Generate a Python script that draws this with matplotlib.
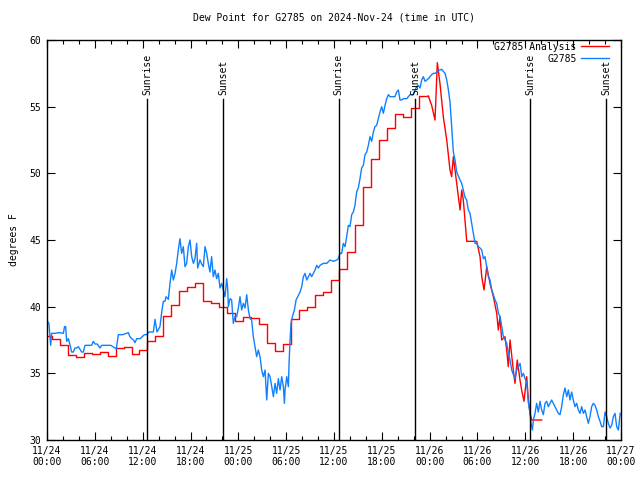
import numpy as np
import matplotlib
matplotlib.use("Agg")
import matplotlib.pyplot as plt
from matplotlib.lines import Line2D

# ---------------- data ----------------
# hours since 2024-11-24 00:00 UTC
blue_t = [0.0, 0.25, 0.46, 0.59, 1.0, 1.5, 2.05, 2.2, 2.34, 2.47, 2.68, 2.9, 3.09, 3.3, 3.51, 3.72, 3.93,
          4.14, 4.35, 4.56, 4.77, 5.2, 5.6, 5.8, 6.02, 6.3, 6.65, 6.85, 7.07, 7.5, 8.0, 8.53, 8.7, 8.95,
          9.5, 10.2, 10.4, 10.62, 10.85, 11.04, 11.25, 11.7, 12.21, 12.5, 12.8, 13.1, 13.34, 13.55, 13.8,
          14.17, 14.38, 14.59, 14.8, 14.93, 15.22, 15.43, 15.64, 15.85, 16.06, 16.27, 16.47, 16.68, 16.89,
          17.1, 17.31, 17.52, 17.73, 17.94, 18.15, 18.36, 18.56,
          18.77, 18.9, 19.19, 19.4, 19.61, 19.82, 20.03, 20.23, 20.44, 20.65, 20.86, 21.07, 21.28, 21.49,
          21.7, 21.91, 22.12, 22.33, 22.54, 22.66, 22.75, 22.96, 23.16, 23.37, 23.58, 23.79, 24.0, 24.21,
          24.42, 24.63, 24.84, 25.05, 25.26, 25.47, 25.67, 25.88, 26.09, 26.3, 26.51, 26.72, 26.93, 27.14,
          27.35, 27.56, 27.77, 27.98, 28.19, 28.4, 28.6, 28.81, 29.02, 29.23, 29.44, 29.65, 29.78, 29.86,
          30.07, 30.28, 30.36, 30.49, 30.61, 30.78, 31.03, 31.24, 31.45, 31.74, 31.95, 32.16, 32.37, 32.58,
          32.79, 33.0, 33.2, 33.41, 33.62, 33.83, 34.04, 34.25, 34.67, 35.09, 35.5, 35.92, 36.34,
          36.55, 36.75, 36.96, 37.17, 37.38, 37.59, 37.8, 38.01, 38.22, 38.43, 38.63, 38.84, 39.05, 39.26,
          39.47, 39.68, 39.89, 40.1, 40.31, 40.52, 40.73, 40.94, 41.14, 41.35, 41.56, 41.77, 41.98, 42.19,
          42.4, 42.61, 42.82, 43.03, 43.24, 43.45, 43.65, 43.86, 44.07, 44.28, 44.49, 44.7, 44.91, 45.12,
          45.33, 45.54, 45.74, 45.95, 46.16, 46.37, 46.58, 46.79, 47.0, 47.21, 47.42, 47.63, 47.84, 48.05,
          48.25, 48.46, 48.67, 48.88, 49.09, 49.3, 49.5, 49.93, 50.14, 50.35, 50.56, 50.76, 50.97, 51.18,
          51.39, 51.81, 52.02, 52.22, 52.43, 52.64, 52.85, 53.06, 53.27, 53.48, 53.69, 53.9, 54.11, 54.32,
          54.53, 54.74, 54.94, 55.15, 55.36, 55.57, 55.78, 55.99, 56.2, 56.41, 56.62, 56.83, 57.04, 57.25,
          57.46, 57.66, 57.87, 58.08, 58.29, 58.5, 58.71, 58.92, 59.13, 59.34, 59.55, 59.76, 59.97, 60.18,
          60.39, 60.6, 60.72, 60.89, 61.01,
          61.21, 61.42, 61.63, 61.84, 62.05, 62.26, 62.47, 62.68, 62.88, 63.09, 63.3, 63.51, 63.72, 63.93,
          64.14, 64.35, 64.56, 64.77, 64.98, 65.19, 65.4, 65.6, 65.81, 66.02, 66.23, 66.44, 66.65, 66.86,
          67.07, 67.28, 67.49, 67.69, 67.9, 68.11, 68.32, 68.53, 68.74, 68.95, 69.16, 69.37, 69.58, 69.79,
          70.0, 70.2, 70.41, 70.62, 70.83, 71.04, 71.25, 71.46, 71.67, 71.9]
blue_v = [39.0, 38.7, 37.1, 38.0, 38.0, 38.05, 38.0, 38.5, 38.5, 37.4, 37.6, 37.1, 36.6, 36.6, 36.9, 36.9, 37.0,
          36.8, 36.6, 36.6, 37.1, 37.1, 37.1, 37.4, 37.2, 37.2, 36.9, 37.1, 37.1, 37.1, 37.1, 36.9, 36.85, 37.9,
          37.9, 38.05, 37.75, 37.6, 37.5, 37.3, 37.6, 37.6, 37.9, 37.9, 38.1, 38.1, 38.1, 39.05, 38.1,
          38.5, 39.55, 40.4, 40.4, 40.75, 40.55, 41.75, 42.75, 42.0, 42.5, 43.25, 44.25, 45.1, 44.0,
          44.5, 43.0, 43.25, 44.5, 45.0, 43.75, 43.25, 43.6,
          44.75, 42.9, 43.5, 43.2, 43.0, 44.5, 44.0, 43.25, 42.6, 43.75, 42.25, 42.75, 42.1, 42.5,
          41.4, 41.75, 41.25, 40.75, 42.1, 41.4, 40.0, 40.6, 40.5, 38.75, 39.25, 39.25, 39.9, 40.75,
          39.75, 40.25, 39.9, 40.9, 39.75, 39.1, 39.0, 37.75, 37.0, 36.25, 36.75, 36.25, 35.25, 34.75,
          35.25, 33.0, 35.0, 34.75, 34.0, 33.25, 34.25, 33.5, 34.6, 33.75, 34.75, 34.0, 32.75, 33.75,
          34.75, 34.0, 35.75, 37.5, 38.75, 39.25, 39.75, 40.5, 40.75, 41.1, 41.5, 42.25, 42.5, 42.0,
          42.25, 42.5, 42.25, 42.5, 42.75, 43.1, 42.9, 43.1, 43.25, 43.25, 43.5, 43.4, 43.5,
          43.6, 44.0, 44.0, 44.75, 44.5, 45.25, 46.1, 46.0, 46.9, 47.1, 47.6, 48.6, 48.9, 49.6,
          50.4, 50.6, 51.4, 51.6, 52.1, 52.75, 52.4, 53.1, 53.5, 53.6, 54.1, 54.6, 55.0, 54.5,
          55.1, 55.6, 55.9, 55.75, 55.75, 55.75, 55.75, 56.1, 56.25, 55.5, 55.5, 55.6, 55.6, 55.6,
          55.75, 55.9, 55.9, 55.9, 56.25, 56.5, 56.6, 56.4, 57.0, 57.25, 56.9, 57.0, 57.1, 57.25,
          57.4, 57.5, 57.5, 57.6, 57.75, 57.75, 57.8, 57.5, 57.0, 56.25, 55.3, 53.5, 51.6, 51.0,
          50.1, 49.5, 49.25, 48.75, 48.2, 48.0, 47.25, 47.0, 46.25, 45.5, 44.75, 44.75, 44.5, 44.4,
          44.25, 43.6, 43.75, 43.0, 42.25, 42.0, 41.25, 40.9, 40.5, 40.25, 39.5, 39.25, 38.5, 37.75,
          37.5, 37.25, 36.5, 36.0, 35.25, 34.9, 34.6, 35.25, 35.5, 35.75, 34.75, 35.0, 34.6, 34.25,
          32.75, 32.0, 31.25, 30.75, 31.5,
          32.0, 32.75, 32.1, 32.9, 32.25, 31.9, 32.75, 32.9, 32.5, 32.75, 33.0, 32.75, 32.5, 32.25,
          32.0, 31.9, 32.5, 33.4, 33.9, 33.25, 33.75, 33.0, 33.6, 33.0, 32.5, 32.75, 32.25, 32.0,
          32.5, 32.0, 32.25, 31.75, 31.25, 31.75, 32.5, 32.75, 32.6, 32.25, 31.75, 31.4, 31.0, 31.0,
          32.1, 31.75, 31.25, 30.9, 31.1, 31.75, 32.0, 31.0, 30.75, 32.0]

# analysis: hourly values (steps begin at hour boundaries offset by ~0.6 h)
red_hourly = [37.8, 37.6, 37.1, 36.35, 36.2, 36.5, 36.45, 36.6, 36.3, 36.9, 37.0, 36.45, 36.75, 37.4,
              37.8, 39.3, 40.1, 41.2, 41.45, 41.8, 40.4, 40.3, 39.95, 39.5, 38.95, 39.2, 39.15, 38.7,
              37.3, 36.7, 37.2, 39.1, 39.75, 39.95, 40.9, 41.1, 42.0, 42.85, 44.1, 46.1, 49.0, 51.1,
              52.5, 53.4, 54.45, 54.2, 54.9, 55.8]
red_t = [47.83, 48.25, 48.67, 48.96, 49.3, 49.71, 50.14, 50.55, 50.76, 50.97, 51.39, 51.81, 52.02,
         52.22, 52.65, 53.9, 54.32, 54.53, 54.82, 55.16, 55.57, 55.99, 56.41, 56.61, 56.82, 57.03,
         57.45, 57.66, 57.86, 58.08, 58.49, 58.7, 58.99, 59.33, 59.54, 59.83, 60.17, 60.38, 60.59,
         60.8, 62.05]
red_v = [55.8, 55.1, 54.0, 58.3, 56.7, 54.25, 52.5, 50.25, 49.75, 51.25, 49.25, 47.25, 48.75,
         48.0, 44.9, 44.9, 43.75, 42.25, 41.25, 43.0, 41.75, 40.75, 39.5, 38.25, 39.25, 37.5,
         37.75, 36.75, 35.5, 37.5, 35.25, 34.25, 36.0, 34.5, 33.75, 32.9, 34.75, 33.0, 32.0,
         31.5, 31.5]

sunrise_h = [12.6, 36.6, 60.6]
sunset_h = [22.13, 46.18, 70.12]

xtick_hours = [0, 6, 12, 18, 24, 30, 36, 42, 48, 54, 60, 66, 72]
xtick_labels = ["11/24\n00:00", "11/24\n06:00", "11/24\n12:00", "11/24\n18:00",
                "11/25\n00:00", "11/25\n06:00", "11/25\n12:00", "11/25\n18:00",
                "11/26\n00:00", "11/26\n06:00", "11/26\n12:00", "11/26\n18:00",
                "11/27\n00:00"]
ytick_vals = [30, 35, 40, 45, 50, 55, 60]

# ---------------- plot ----------------
FONT = "DejaVu Sans Mono"
FS = 7
plt.rcParams['font.family'] = FONT
plt.rcParams['font.size'] = FS

RED = "#ff0000"
BLUE = "#1080ff"

fig = plt.figure(figsize=(6.4, 4.8), dpi=100)
ax = fig.add_axes([47/640, 40/480, (621-47)/640, 400/480])

# analysis step part
step_t = np.append(np.arange(len(red_hourly)) - 0.4, red_t[0])
step_t[0] = 0.0
step_v = np.append(red_hourly, red_hourly[-1])
ax.step(step_t, step_v, where='post', color=RED, lw=1.0)
ax.plot(red_t, red_v, color=RED, lw=1.0)
ax.plot(blue_t, blue_v, color=BLUE, lw=1.0)

for h in sunrise_h + sunset_h:
    ax.plot([h, h], [30, 55.6], color='black', lw=1.0)
for h in sunrise_h:
    ax.text(h, 55.9, "Sunrise", rotation=90, ha='center', va='bottom', fontsize=FS)
for h in sunset_h:
    ax.text(h, 55.9, "Sunset", rotation=90, ha='center', va='bottom', fontsize=FS)

ax.set_xlim(0, 72)
ax.set_ylim(30, 60)
ax.set_xticks(xtick_hours)
ax.set_xticklabels(xtick_labels)
ax.set_xticks(np.arange(0, 73, 2), minor=True)
ax.set_yticks(ytick_vals)
ax.tick_params(axis='both', which='major', direction='in', length=6, width=0.8,
               top=True, right=True, labelsize=FS, pad=4)
ax.tick_params(axis='x', which='minor', direction='in', length=3, width=0.8, top=True)
for s in ax.spines.values():
    s.set_linewidth(1.0)

ax.set_ylabel("degrees F", fontsize=FS, labelpad=8)
ax.set_title("Dew Point for G2785 on 2024-Nov-24 (time in UTC)", fontsize=FS, pad=14)

handles = [Line2D([], [], color=RED, lw=1.0), Line2D([], [], color=BLUE, lw=1.0)]
leg = ax.legend(handles, ["G2785 Analysis", "G2785"], loc='upper right',
                bbox_to_anchor=(0.985, 1.005), frameon=False, markerfirst=False,
                handlelength=2.8, handletextpad=0.5, labelspacing=0.2, fontsize=FS,
                borderaxespad=0.0)
leg._legend_box.align = "right"

fig.savefig("out.png", dpi=100)
